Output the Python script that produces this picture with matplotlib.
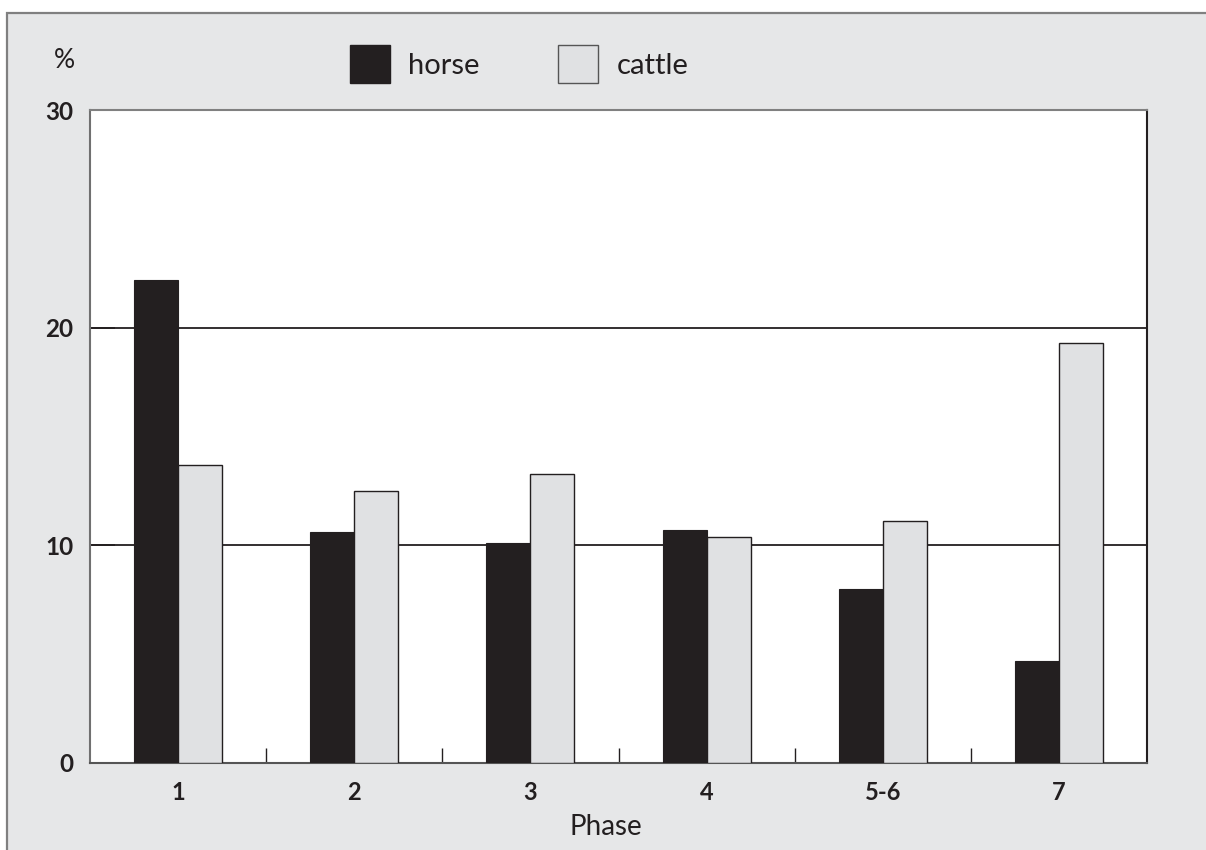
import matplotlib
matplotlib.use("Agg")
import matplotlib.pyplot as plt
from matplotlib.patches import Rectangle, Patch
import numpy as np

phases = ["1", "2", "3", "4", "5-6", "7"]
horse = [22.2, 10.6, 10.1, 10.7, 8.0, 4.7]
cattle = [13.7, 12.5, 13.3, 10.4, 11.1, 19.3]

plt.rcParams['font.family'] = ['Lato', 'DejaVu Sans']

dark = '#231f20'
light = '#e0e1e3'
bg = '#e6e7e8'

fig = plt.figure(figsize=(12.06, 8.5), dpi=100, facecolor='white')

# grey panel with thin border, cut off at right and bottom
fig.patches.append(Rectangle((7 / 1206, -0.05), 1.2, (850 - 13) / 850 + 0.05,
                             transform=fig.transFigure, facecolor=bg,
                             edgecolor='#808080', linewidth=1.6, zorder=-1))

ax = fig.add_axes([90 / 1206, 87 / 850, 1057 / 1206, 653 / 850])
ax.set_facecolor('white')

x = np.arange(len(phases))
w = 0.25
ax.bar(x - w / 2, horse, width=w, color=dark, edgecolor=dark, linewidth=0.8, zorder=3)
ax.bar(x + w / 2, cattle, width=w, color=light, edgecolor=dark, linewidth=1.0, zorder=3)

for yv in [10, 20]:
    ax.axhline(yv, color=dark, linewidth=1.3, zorder=1)

ax.set_xlim(-0.5, len(phases) - 0.5)
ax.set_ylim(0, 30)
ax.set_yticks([0, 10, 20, 30])
ax.set_xticks(x)
ax.set_xticklabels(phases, fontsize=17, fontweight='bold', color=dark)
ax.set_xticks(x[:-1] + 0.5, minor=True)
ax.tick_params(axis='x', which='major', length=0, pad=13)
ax.tick_params(axis='x', which='minor', direction='in', length=11, width=1.0, color=dark)
ax.tick_params(axis='y', direction='in', length=18, width=1.3, color=dark, pad=12,
               labelsize=17.5, labelcolor=dark)
for lab in ax.get_yticklabels():
    lab.set_fontweight('bold')

ax.spines['top'].set_color('#808080')
ax.spines['left'].set_color('#707070')
ax.spines['bottom'].set_color('#555555')
ax.spines['right'].set_color(dark)
for s in ax.spines.values():
    s.set_linewidth(1.5)

fig.text(606 / 1206, (850 - 827) / 850, 'Phase', fontsize=20, color=dark,
         ha='center', va='center')
fig.text(64 / 1206, (850 - 60) / 850, '%', fontsize=19, color=dark,
         ha='center', va='center')

handles = [Patch(facecolor=dark, edgecolor=dark, label='horse'),
           Patch(facecolor=light, edgecolor='#555555', label='cattle')]
fig.legend(handles=handles, loc='center left', bbox_to_anchor=(350 / 1206, (850 - 64) / 850),
           ncol=2, frameon=False, fontsize=21, handlelength=1.37, handleheight=1.6,
           handletextpad=0.62, columnspacing=2.7, borderpad=0, borderaxespad=0,
           labelcolor=dark)

fig.savefig('out.png', dpi=100, facecolor='white')
